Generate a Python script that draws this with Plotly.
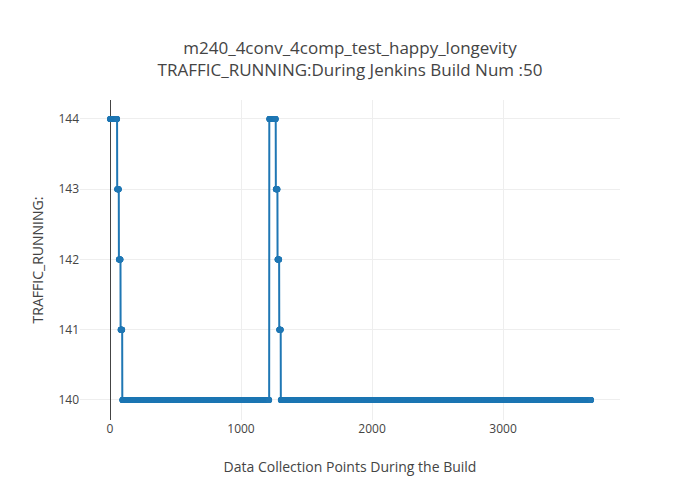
import plotly.graph_objects as go

# run-length description of the series
run_values = [144, 143, 142, 141, 140, 144, 143, 142, 141, 140]
run_lengths = [55, 13, 13, 13, 1122, 50, 13, 13, 12, 2369]

title_text = ('m240_4conv_4comp_test_happy_longevity<br>'
              'TRAFFIC_RUNNING:During Jenkins Build Num :50')
x_title = 'Data Collection Points During the Build'
y_title = 'TRAFFIC_RUNNING:'

y = []
for v, n in zip(run_values, run_lengths):
    y.extend([v] * n)
x = list(range(len(y)))

fig = go.Figure(go.Scatter(
    x=x,
    y=y,
    mode='lines+markers',
    line=dict(color='#1f77b4', width=2),
    marker=dict(color='#1f77b4', size=6),
))

# page body has an 8px margin, so the figure is sized to sit like the original
fig.update_layout(
    width=684,
    height=484,
    margin=dict(l=72, r=72, t=92, b=72),
    paper_bgcolor='white',
    plot_bgcolor='white',
    font=dict(family='Open Sans', color='#444', size=12),
    title=dict(
        text=title_text,
        x=0.5,
        xanchor='center',
        y=0.905,
        yanchor='middle',
        font=dict(size=17, family='Open Sans', color='#444'),
    ),
    showlegend=False,
    xaxis=dict(
        title=dict(text=x_title, font=dict(size=14), standoff=26),
        range=[-229, 3893],
        showgrid=True,
        gridcolor='#eee',
        zeroline=True,
        zerolinecolor='#444',
        zerolinewidth=1,
        showline=False,
        ticks='',
        tickvals=[0, 1000, 2000, 3000],
    ),
    yaxis=dict(
        title=dict(text=y_title, font=dict(size=14), standoff=11),
        range=[139.715, 144.27],
        showgrid=True,
        gridcolor='#eee',
        zeroline=False,
        showline=False,
        ticks='',
        tickvals=[140, 141, 142, 143, 144],
    ),
)

fig.write_html("out.html")
